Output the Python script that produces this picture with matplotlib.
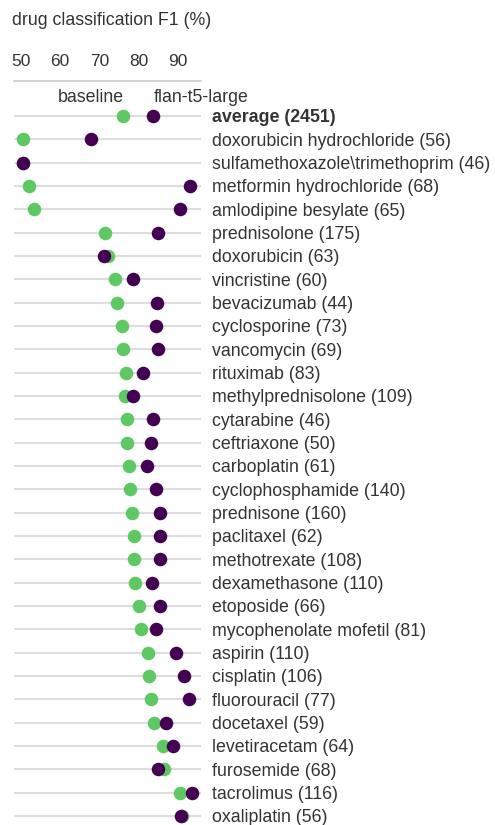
import matplotlib
matplotlib.use("Agg")
import matplotlib.pyplot as plt

plt.rcParams['font.family'] = ['Liberation Sans', 'DejaVu Sans']

drugs = ["average (2451)", "doxorubicin hydrochloride (56)", "sulfamethoxazole\\trimethoprim (46)",
         "metformin hydrochloride (68)", "amlodipine besylate (65)", "prednisolone (175)",
         "doxorubicin (63)", "vincristine (60)", "bevacizumab (44)", "cyclosporine (73)",
         "vancomycin (69)", "rituximab (83)", "methylprednisolone (109)", "cytarabine (46)",
         "ceftriaxone (50)", "carboplatin (61)", "cyclophosphamide (140)", "prednisone (160)",
         "paclitaxel (62)", "methotrexate (108)", "dexamethasone (110)", "etoposide (66)",
         "mycophenolate mofetil (81)", "aspirin (110)", "cisplatin (106)", "fluorouracil (77)",
         "docetaxel (59)", "levetiracetam (64)", "furosemide (68)", "tacrolimus (116)",
         "oxaliplatin (56)"]
baseline = [75.9, 50.5, 50.6, 52.0, 53.5, 71.4, 72.1, 73.9, 74.4, 75.7,
            76.1, 76.7, 76.6, 77.1, 77.1, 77.4, 77.8, 78.2, 78.7, 78.9,
            79.0, 80.0, 80.5, 82.4, 82.5, 83.1, 83.8, 86.2, 86.5, 90.4, 91.0]
flan = [83.7, 67.9, 50.7, 93.1, 90.5, 84.8, 71.1, 78.6, 84.6, 84.3,
        84.8, 81.0, 78.5, 83.6, 83.1, 82.2, 84.3, 85.3, 85.3, 85.4,
        83.4, 85.3, 84.3, 89.4, 91.4, 92.8, 86.8, 88.6, 84.8, 93.5, 90.7]
xticks = [50, 60, 70, 80, 90]
series_names = ["baseline", "flan-t5-large"]

GREEN = "#5ec962"
PURPLE = "#440154"
TEXT = "#333333"

W, H = 495, 825
fig = plt.figure(figsize=(W / 100, H / 100), dpi=100)
ax_left, ax_right, ax_top, ax_bottom = 14, 201, 81, 825
ax = fig.add_axes([ax_left / W, 1 - ax_bottom / H, (ax_right - ax_left) / W, (ax_bottom - ax_top) / H])

n = len(drugs)
ys = list(range(n))
row0, step = 116, 23.33
ax.set_ylim((ax_bottom - row0) / step, (ax_top - row0) / step)
ax.set_xlim(48.3, 95.8)

for y in ys:
    ax.axhline(y, color="#dddddd", lw=1.5, zorder=1)

ax.scatter(baseline, ys, s=95, color=GREEN, zorder=3, linewidths=0)
ax.scatter(flan, ys, s=95, color=PURPLE, zorder=4, linewidths=0)

for s in ["left", "right", "bottom"]:
    ax.spines[s].set_visible(False)
ax.spines["top"].set_color("#cccccc")
ax.spines["top"].set_linewidth(1.2)

ax.xaxis.tick_top()
ax.set_xticks(xticks)
ax.set_xticklabels([str(t) for t in xticks])
ax.tick_params(axis="x", length=0, pad=9, labelsize=12.5, labelcolor=TEXT)

ax.yaxis.tick_right()
ax.set_yticks(ys)
ax.set_yticklabels(drugs)
ax.tick_params(axis="y", length=0, pad=8, labelsize=12.8, labelcolor=TEXT)
ax.get_yticklabels()[0].set_fontweight("bold")

ax.annotate(series_names[0], xy=(baseline[0], 0), xytext=(1, 13), textcoords="offset points",
            ha="right", va="center", fontsize=12.8, color=TEXT, annotation_clip=False)
ax.annotate(series_names[1], xy=(flan[0], 0), xytext=(0, 13), textcoords="offset points",
            ha="left", va="center", fontsize=12.8, color=TEXT, annotation_clip=False)

fig.text(12 / W, 1 - 20.5 / H, "drug classification F1 (%)", ha="left", va="center",
         fontsize=12.8, color=TEXT)

fig.savefig("out.png", dpi=100)
